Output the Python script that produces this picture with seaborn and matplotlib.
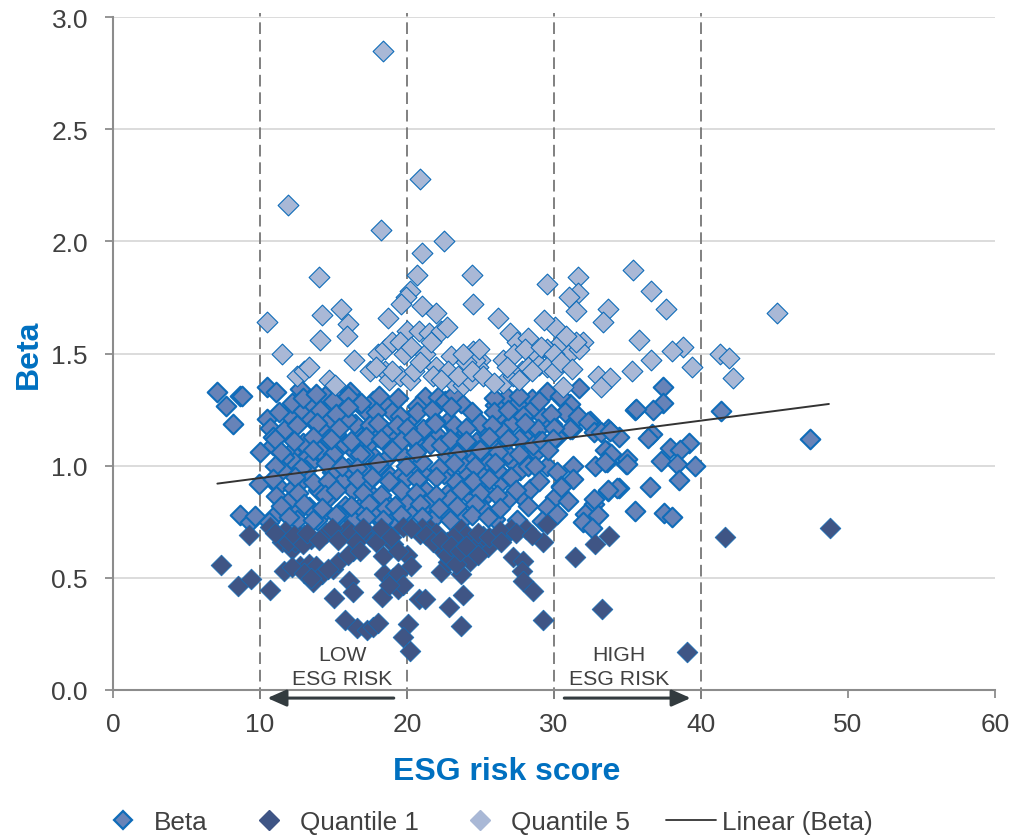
import matplotlib
matplotlib.use("Agg")
import matplotlib.pyplot as plt
from matplotlib.lines import Line2D
import pandas as pd
import seaborn as sns

# values
beta_x = [7.05, 7.7, 8.14, 8.64, 8.8, 10.45, 11.1, 12.7, 10.5, 10.7, 11.6, 11.9, 12.2, 12.95, 13.5, 13.5,
          14.4, 14.65, 15.44, 16.5, 17.15, 17.7, 18.6, 18.95, 16.1, 16.45, 17.5, 18.5, 10.9, 10.0, 10.9, 12.95,
          14.0, 12.1, 11.4, 13.2, 12.3, 13.4, 15.0, 15.7, 16.45, 17.7, 17.3, 18.6, 18.85, 20.2, 20.9, 21.1,
          19.75, 20.65, 19.6, 9.96, 11.25, 11.1, 12.27, 11.9, 12.9, 13.97, 13.6, 15.1, 15.7, 16.35, 13.3, 12.4,
          11.0, 8.64, 9.3, 9.66, 14.3, 15.8, 16.8, 17.5, 18.3, 19.5, 19.9, 17.9, 18.7, 20.6, 21.3, 14.9,
          15.2, 14.2, 17.0, 16.0, 19.2, 18.1, 17.4, 16.9, 13.1, 14.7, 11.6, 19.0, 21.2, 22.1, 20.65, 20.2,
          22.8, 23.7, 24.4, 21.1, 22.1, 21.56, 23.3, 24.7, 25.3, 26.3, 26.8, 27.46, 28.5, 28.36, 29.27, 27.1,
          26.55, 27.9, 28.9, 29.5, 30.4, 31.7, 31.1, 31.2, 32.44, 33.7, 34.4, 35.5, 33.6, 33.6, 32.8, 34.9,
          29.5, 30.2, 31.3, 31.3, 30.5, 30.06, 30.97, 29.5, 30.2, 29.16, 32.7, 32.1, 32.0, 33.7, 34.4, 26.4,
          27.2, 27.7, 28.0, 28.8, 26.4, 27.0, 27.8, 28.4, 26.9, 25.2, 24.17, 25.3, 24.17, 24.5, 23.15, 22.5,
          21.1, 20.4, 21.0, 22.7, 20.0, 21.3, 22.7, 21.3, 20.1, 22.6, 23.94, 26.0, 21.8, 19.86, 24.9, 23.4,
          23.0, 25.8, 25.6, 24.0, 22.3, 21.9, 25.0, 26.0, 23.6, 22.9, 29.85, 30.75, 31.65, 32.3, 31.1, 32.7,
          33.2, 33.8, 36.65, 36.4, 37.9, 39.2, 38.6, 33.5, 33.9, 34.95, 35.0, 33.5, 37.3, 38.35, 39.6, 38.5,
          30.2, 30.5, 36.5, 34.3, 33.7, 32.7, 35.5, 37.5, 38.0, 33.0, 32.6, 37.4, 37.4, 36.76, 35.6, 41.34,
          47.4, 30.4, 29.0, 28.6, 28.2, 27.6, 26.9, 26.1, 25.5, 24.9, 24.2, 23.5, 20.5, 19.4, 18.3, 17.0,
          16.3, 15.4, 14.6, 13.9, 12.5, 11.5, 10.6, 15.9, 17.1, 18.0,
          12.9, 13.8, 15.0, 16.0, 16.9, 18.1, 19.4, 22.6, 23.2, 25.9, 27.6, 29.0,
          11.3, 14.1, 15.2, 16.0, 17.9, 19.5, 20.7, 21.7, 23.0, 25.9, 26.9, 27.9, 29.8,
          12.5, 13.9, 15.4, 18.0, 19.3, 20.0, 21.9, 23.2, 24.0, 25.8, 28.0, 30.0,
          11.0, 12.3, 13.6, 14.8, 16.2, 17.2, 18.2, 19.6, 20.4, 22.9, 24.0, 25.6, 26.9, 29.2, 29.9,
          11.4, 13.6, 16.8, 19.0, 20.6, 23.4, 25.0, 26.2, 27.6, 29.6,
          11.0, 12.8, 14.5, 15.6, 16.6, 18.0, 19.9, 22.2, 23.2, 24.6, 26.0, 28.7,
          10.9, 12.4, 14.6, 16.6, 17.6, 18.8, 20.7, 22.0, 24.5, 25.6, 27.1, 29.0,
          12.6, 14.4, 15.2, 17.0, 18.2, 19.6, 20.6, 22.0, 23.7, 25.0, 26.1, 27.4,
          11.4, 13.0, 14.2, 16.2, 17.4, 18.6, 19.2, 20.9, 22.2, 23.4, 24.6, 26.3, 28.2,
          12.0, 13.6, 15.2, 17.2, 18.4, 19.6, 21.0, 22.9, 24.4, 25.5, 27.5]
beta_y = [1.33, 1.265, 1.184, 1.31, 1.31, 1.35, 1.33, 1.34, 1.21, 1.17, 1.16, 1.23, 1.28, 1.245, 1.28, 1.21,
          1.31, 1.2, 1.3, 1.29, 1.25, 1.29, 1.275, 1.24, 1.33, 1.185, 1.18, 1.16, 1.13, 1.06, 1.09, 1.1,
          1.07, 1.06, 1.01, 1.04, 1.015, 1.01, 1.05, 1.1, 1.06, 1.045, 1.09, 1.03, 0.955, 1.21, 1.27, 1.155,
          1.045, 1.03, 0.96, 0.92, 0.91, 0.866, 0.9, 0.84, 0.94, 0.89, 0.926, 0.9, 0.94, 0.89, 0.814, 0.785,
          0.78, 0.78, 0.75, 0.777, 0.79, 0.82, 0.815, 0.88, 0.85, 0.82, 0.79, 0.8, 0.78, 0.82, 0.88, 0.97,
          1.14, 1.16, 0.98, 0.99, 1.12, 1.0, 0.93, 1.13, 0.98, 0.86, 1.04, 1.08, 1.305, 1.305, 1.267, 1.21,
          1.2, 1.28, 1.24, 1.163, 1.134, 1.096, 1.16, 1.104, 1.163, 1.23, 1.305, 1.275, 1.297, 1.245, 1.215, 1.186,
          1.149, 1.134, 1.163, 1.327, 1.305, 1.345, 1.275, 1.163, 1.2, 1.163, 1.126, 1.25, 1.067, 1.015, 1.0, 1.007,
          1.0, 0.97, 1.0, 0.94, 0.91, 0.86, 0.844, 0.814, 0.785, 0.755, 0.83, 0.785, 0.747, 0.888, 0.9, 1.037,
          1.015, 0.98, 1.045, 1.06, 0.926, 0.948, 0.86, 0.896, 0.851, 0.807, 0.874, 0.963, 0.963, 1.037, 0.94, 0.963,
          0.963, 1.007, 1.015, 1.045, 0.948, 0.888, 0.874, 0.829, 0.792, 0.792, 0.77, 0.762, 0.762, 0.836, 0.9, 1.1,
          1.0, 1.09, 1.01, 1.08, 1.09, 1.2, 1.19, 1.27, 1.01, 0.85, 1.186, 1.238, 1.223, 1.194, 1.164, 1.149,
          1.149, 1.156, 1.14, 1.122, 1.08, 1.1, 1.068, 1.068, 1.052, 1.03, 1.008, 1.015, 1.02, 1.008, 1.0, 0.938,
          1.13, 0.904, 0.904, 0.9, 0.89, 0.85, 0.8, 0.79, 0.77, 0.78, 0.72, 1.35, 1.278, 1.248, 1.253, 1.243,
          1.12, 1.31, 1.11, 1.09, 1.0, 1.12, 1.05, 0.98, 0.88, 1.07, 0.92, 1.08, 1.11, 0.74, 0.75, 1.12,
          0.76, 0.78, 1.12, 0.76, 0.76, 0.98, 0.75, 1.21, 1.05, 1.13,
          1.3, 1.32, 1.29, 1.31, 1.28, 1.31, 1.3, 1.29, 1.32, 1.3, 1.31, 1.29,
          1.24, 1.25, 1.23, 1.26, 1.24, 1.22, 1.24, 1.25, 1.26, 1.24, 1.25, 1.22, 1.23,
          1.18, 1.19, 1.17, 1.19, 1.18, 1.17, 1.19, 1.18, 1.17, 1.18, 1.19, 1.17,
          1.12, 1.11, 1.13, 1.12, 1.11, 1.13, 1.12, 1.11, 1.13, 1.12, 1.11, 1.13, 1.12, 1.11, 1.12,
          1.06, 1.07, 1.05, 1.07, 1.06, 1.05, 1.07, 1.06, 1.05, 1.07,
          1.0, 0.99, 1.01, 1.0, 0.99, 1.01, 1.0, 0.99, 1.01, 1.0, 1.01, 1.0,
          0.94, 0.95, 0.93, 0.94, 0.95, 0.93, 0.94, 0.95, 0.93, 0.94, 0.95, 0.93,
          0.88, 0.87, 0.89, 0.88, 0.87, 0.89, 0.88, 0.87, 0.89, 0.88, 0.87, 0.89,
          0.82, 0.83, 0.81, 0.82, 0.83, 0.81, 0.82, 0.83, 0.81, 0.82, 0.83, 0.81, 0.82,
          0.77, 0.76, 0.78, 0.77, 0.76, 0.78, 0.77, 0.76, 0.78, 0.77, 0.76]

q1_x = [7.35, 8.5, 9.4, 10.7, 9.25, 11.65, 12.7, 13.3, 13.8, 14.2, 13.6, 15.0, 15.3, 15.05, 16.05, 16.3,
        15.8, 16.6, 17.3, 17.7, 18.0, 18.3, 18.45, 19.05, 19.4, 18.35, 20.0, 20.3, 20.1, 19.75, 20.2, 20.8,
        21.2, 22.85, 23.8, 23.7, 23.7, 22.3, 22.8, 23.2, 22.5, 23.4, 22.7, 24.3, 25.5, 27.2, 27.9, 27.8,
        27.9, 28.6, 29.25, 29.25, 31.4, 32.8, 33.75, 33.25, 39.05, 41.6, 48.8, 10.7, 11.7, 11.5, 12.15, 12.7,
        13.5, 14.5, 15.9, 16.35, 16.6, 17.5, 18.6, 19.07, 19.75, 20.9, 21.57, 22.1, 22.5, 22.9, 23.7, 24.5,
        25.2, 26.7, 27.1, 28.1, 29.5, 24.0, 23.1, 12.4, 13.0, 17.0, 18.1, 21.0, 22.0, 24.8,
        11.0, 11.9, 12.3, 12.9, 13.2, 14.0, 14.9, 15.3, 16.2, 16.5, 17.0, 17.9, 18.2, 18.9, 19.4, 20.3,
        21.3, 21.8, 22.3, 22.7, 23.0, 23.3, 23.6, 24.0, 24.8, 25.6, 26.3, 26.4, 27.4, 28.5, 16.0, 16.8,
        12.2, 13.0, 13.5, 14.6, 19.4, 19.7, 18.8]
q1_y = [0.557, 0.465, 0.495, 0.447, 0.69, 0.53, 0.554, 0.56, 0.554, 0.517, 0.48, 0.54, 0.57, 0.41, 0.487, 0.437,
        0.31, 0.276, 0.267, 0.28, 0.3, 0.415, 0.517, 0.5, 0.45, 0.597, 0.6, 0.554, 0.294, 0.236, 0.174, 0.406,
        0.406, 0.37, 0.424, 0.285, 0.517, 0.526, 0.57, 0.6, 0.63, 0.64, 0.66, 0.575, 0.637, 0.593, 0.575, 0.53,
        0.486, 0.44, 0.66, 0.31, 0.593, 0.65, 0.687, 0.36, 0.17, 0.68, 0.72, 0.725, 0.71, 0.658, 0.628, 0.688,
        0.673, 0.7, 0.717, 0.62, 0.688, 0.688, 0.7, 0.65, 0.725, 0.695, 0.717, 0.688, 0.613, 0.584, 0.717, 0.643,
        0.688, 0.688, 0.717, 0.717, 0.74, 0.69, 0.68, 0.66, 0.69, 0.7, 0.68, 0.72, 0.7, 0.7,
        0.7, 0.66, 0.69, 0.65, 0.7, 0.67, 0.72, 0.67, 0.7, 0.66, 0.72, 0.66, 0.72, 0.68, 0.62, 0.72,
        0.69, 0.66, 0.67, 0.6, 0.64, 0.56, 0.62, 0.64, 0.6, 0.68, 0.71, 0.66, 0.7, 0.69, 0.6, 0.62,
        0.55, 0.52, 0.5, 0.54, 0.52, 0.47, 0.47]

q5_x = [18.4, 20.9, 11.9, 18.2, 22.5, 21.0, 20.7, 24.4, 14.0, 35.4, 31.6, 29.5, 36.6, 31.6, 31.0, 20.2,
        19.9, 19.6, 21.0, 24.5, 15.5, 14.2, 18.7, 22.0, 26.2, 10.5, 16.0, 15.9, 14.1, 33.7, 33.3, 37.6,
        31.5, 45.2, 30.1, 29.3, 27.0, 20.0, 20.8, 21.5, 22.3, 22.7, 35.8, 38.8, 38.0, 11.5, 23.0, 24.5,
        25.0, 26.5, 27.5, 28.2, 28.8, 29.5, 30.5, 31.0, 32.0, 31.7, 36.6, 35.3, 39.4, 41.3, 41.9, 42.2,
        33.0, 33.8, 33.2, 30.6, 12.5, 13.0, 13.3, 14.7, 15.1, 16.4, 17.5, 18.0, 18.5, 19.0, 19.5, 18.5,
        18.8, 19.5, 20.2, 20.5, 21.2, 22.0, 22.8, 23.2, 23.8, 24.3, 24.8, 24.6, 26.5, 27.2, 27.8, 28.2,
        29.0, 29.5, 30.0, 27.3,
        19.0, 19.8, 20.3, 20.9, 21.8, 22.3, 23.5, 24.0, 24.4, 25.2, 25.9, 26.8, 27.6, 28.0, 28.5, 29.1,
        30.0, 30.5, 31.2, 31.5, 30.8, 17.9, 21.6, 23.8, 24.9]
q5_y = [2.85, 2.28, 2.16, 2.05, 2.0, 1.95, 1.85, 1.85, 1.84, 1.87, 1.84, 1.81, 1.78, 1.77, 1.75, 1.78,
        1.75, 1.72, 1.71, 1.72, 1.7, 1.67, 1.66, 1.68, 1.66, 1.64, 1.63, 1.58, 1.56, 1.7, 1.64, 1.7,
        1.69, 1.68, 1.62, 1.65, 1.59, 1.6, 1.6, 1.59, 1.6, 1.62, 1.56, 1.53, 1.51, 1.5, 1.49, 1.51,
        1.47, 1.47, 1.55, 1.57, 1.5, 1.52, 1.55, 1.5, 1.55, 1.52, 1.47, 1.42, 1.44, 1.5, 1.48, 1.39,
        1.4, 1.39, 1.35, 1.35, 1.4, 1.42, 1.44, 1.38, 1.36, 1.47, 1.42, 1.5, 1.52, 1.55, 1.55, 1.42,
        1.38, 1.4, 1.38, 1.42, 1.5, 1.44, 1.42, 1.37, 1.36, 1.38, 1.44, 1.47, 1.37, 1.4, 1.42, 1.44,
        1.45, 1.44, 1.42, 1.5,
        1.42, 1.5, 1.53, 1.46, 1.4, 1.38, 1.4, 1.46, 1.42, 1.4, 1.37, 1.44, 1.38, 1.52, 1.42, 1.53,
        1.5, 1.46, 1.43, 1.55, 1.58, 1.44, 1.55, 1.5, 1.52]

trend_x = [7.1, 48.7]
trend_y = [0.92, 1.275]
risk_bands = [10, 20, 30, 40]

BLUE = "#0f6cb9"
DARK = "#3f5585"
MID = "#6783b8"
LIGHT = "#a9b8d6"
TEXT = "#404040"

sns.set_theme(style="white")
plt.rcParams["font.family"] = ["Liberation Sans", "DejaVu Sans"]

fig, ax = plt.subplots(figsize=(10.12, 8.37), dpi=100)
fig.subplots_adjust(left=113 / 1012, right=995 / 1012, top=1 - 18 / 837, bottom=1 - 691 / 837)

sns.scatterplot(data=pd.DataFrame({"x": beta_x, "y": beta_y}), x="x", y="y", marker="D", s=100,
                color=MID, edgecolor=BLUE, linewidth=1.5, ax=ax, zorder=3)
sns.scatterplot(data=pd.DataFrame({"x": q1_x, "y": q1_y}), x="x", y="y", marker="D", s=112,
                color=DARK, edgecolor=BLUE, linewidth=0.5, ax=ax, zorder=4)
sns.scatterplot(data=pd.DataFrame({"x": q5_x, "y": q5_y}), x="x", y="y", marker="D", s=112,
                color=LIGHT, edgecolor=BLUE, linewidth=0.8, ax=ax, zorder=4)
sns.lineplot(x=trend_x, y=trend_y, color="#333333", linewidth=1.4, ax=ax, zorder=5)

ax.set_xlim(0, 60)
ax.set_ylim(0, 3)
ax.set_xticks(range(0, 61, 10))
ax.set_yticks([0, 0.5, 1, 1.5, 2, 2.5, 3])
ax.set_yticklabels(["0.0", "0.5", "1.0", "1.5", "2.0", "2.5", "3.0"])
ax.tick_params(axis="both", labelsize=19, labelcolor=TEXT, color="#8c8c8c", length=6, width=1.3,
               bottom=True, left=True)
ax.tick_params(axis="x", pad=10)
ax.tick_params(axis="y", pad=12)
ax.yaxis.grid(True, color="#d9d9d9", linewidth=1.3)
ax.set_axisbelow(True)
sns.despine(ax=ax)
for side in ["left", "bottom"]:
    ax.spines[side].set_color("#8c8c8c")
    ax.spines[side].set_linewidth(1.5)

# dashed band limits run a little past the axes, behind the markers
ax.vlines(risk_bands, -0.04, 3.02, colors="#808080", linestyles=(0, (6, 3)), linewidth=1.4, zorder=2.5, clip_on=False)

ax.set_xlabel("ESG risk score", fontsize=23, fontweight="bold", color="#0070c0")
ax.xaxis.set_label_coords((507 - 113) / 882, (691 - 757) / 673)
ax.set_ylabel("Beta", fontsize=23, fontweight="bold", color="#0070c0")
ax.yaxis.set_label_coords((44 - 113) / 882, (691 - 354) / 673)

ax.text(15.6, 0.105, "LOW\nESG RISK", ha="center", va="center", fontsize=15.3, color=TEXT, linespacing=1.38, zorder=7)
ax.text(34.4, 0.105, "HIGH\nESG RISK", ha="center", va="center", fontsize=15.3, color=TEXT, linespacing=1.38, zorder=7)
for start, end in [(19.1, 10.5), (30.7, 39.3)]:
    ax.annotate("", xy=(end, -0.036), xytext=(start, -0.036), annotation_clip=False,
                arrowprops=dict(arrowstyle="-|>,head_width=0.42,head_length=0.95", color="#333b3f", lw=2.2,
                                shrinkA=0, shrinkB=0))

handles = [
    Line2D([], [], linestyle="", marker="D", markersize=9, markerfacecolor=MID, markeredgecolor=BLUE, markeredgewidth=1.6),
    Line2D([], [], linestyle="", marker="D", markersize=10, markerfacecolor=DARK, markeredgecolor=DARK),
    Line2D([], [], linestyle="", marker="D", markersize=10, markerfacecolor=LIGHT, markeredgecolor=LIGHT),
    Line2D([], [], color="#333333", linewidth=1.3),
]
ax.legend(handles, ["Beta", "Quantile 1", "Quantile 5", "Linear (Beta)"], ncol=4, frameon=False, fontsize=18.8,
          labelcolor=TEXT, loc="center left", bbox_to_anchor=(-0.017, (691 - 823) / 673), borderaxespad=0, borderpad=0,
          handlelength=1.9, handletextpad=0.23, columnspacing=1.4)

fig.savefig("out.png", dpi=100)
